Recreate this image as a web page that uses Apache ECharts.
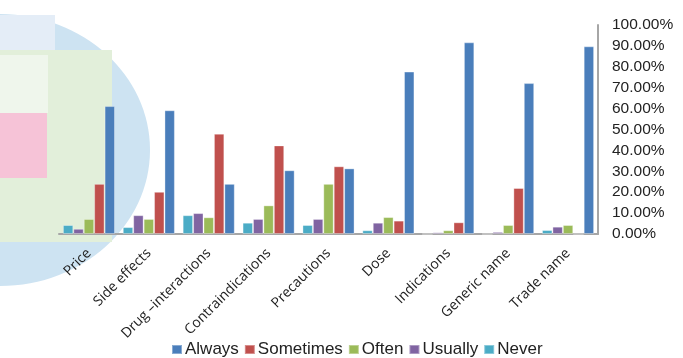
<!DOCTYPE html>
<html>
<head>
<meta charset="utf-8">
<script src="https://cdn.jsdelivr.net/npm/echarts@6/dist/echarts.min.js"></script>
<style>
  html, body { margin: 0; padding: 0; background: #fff; }
  #main { width: 683px; height: 358px; }
</style>
</head>
<body>
<div id="main"></div>
<script>
// categories and values (fraction of respondents)
var categories = ['Price', 'Side effects', 'Drug \u2013interactions', 'Contraindications',
  'Precautions', 'Dose', 'Indications', 'Generic name', 'Trade name'];
var never     = [0.043, 0.033, 0.090, 0.054, 0.043, 0.018, 0.000, 0.000, 0.019];
var usually   = [0.025, 0.090, 0.100, 0.072, 0.072, 0.054, 0.008, 0.010, 0.035];
var often     = [0.072, 0.072, 0.080, 0.137, 0.240, 0.081, 0.018, 0.043, 0.043];
var sometimes = [0.240, 0.202, 0.480, 0.424, 0.324, 0.064, 0.056, 0.220, 0.000];
var always    = [0.612, 0.592, 0.240, 0.305, 0.314, 0.777, 0.917, 0.722, 0.898];

var colors = {
  Always: '#4a7ebb', Sometimes: '#c0504d', Often: '#9bbb59',
  Usually: '#8064a2', Never: '#4bacc6'
};

function bar(name, data) {
  return {
    name: name,
    type: 'bar',
    data: data,
    barGap: '0%',
    barCategoryGap: '13%',
    itemStyle: { color: colors[name], borderColor: 'rgba(255,255,255,0.35)', borderWidth: 1 }
  };
}

var chart = echarts.init(document.getElementById('main'));

chart.setOption({
  animation: false,
  // faint pixelated blob behind the left side of the plot
  graphic: [
    { type: 'ellipse', shape: { cx: 0, cy: 150, rx: 150, ry: 136 }, style: { fill: '#cde3f2' }, z: -10 },
    { type: 'rect', shape: { x: 0, y: 15, width: 55, height: 36 }, style: { fill: '#e4edf7' }, z: -9 },
    { type: 'rect', shape: { x: 0, y: 50, width: 112, height: 192 }, style: { fill: '#e2efda' }, z: -9 },
    { type: 'rect', shape: { x: 0, y: 55, width: 48, height: 58 }, style: { fill: '#eff6ec' }, z: -8 },
    { type: 'rect', shape: { x: 0, y: 113, width: 47, height: 65 }, style: { fill: '#f6c3d7' }, z: -8 }
  ],
  grid: { left: 59, right: 85, top: 25, bottom: 124 },
  legend: {
    data: ['Always', 'Sometimes', 'Often', 'Usually', 'Never'],
    top: 336,
    left: 166,
    icon: 'rect',
    itemWidth: 10,
    itemHeight: 9,
    itemGap: 5,
    textStyle: { fontFamily: 'Liberation Sans', fontSize: 17, color: '#222', padding: [0, 0, 0, -2] }
  },
  xAxis: {
    type: 'category',
    data: categories,
    axisLine: { lineStyle: { color: '#a6a6a6', width: 2 } },
    axisTick: { show: false },
    axisLabel: {
      rotate: 45,
      interval: 0,
      margin: 17,
      fontFamily: 'Open Sans',
      fontSize: 14,
      color: '#222'
    }
  },
  yAxis: {
    type: 'value',
    position: 'right',
    min: 0,
    max: 1,
    interval: 0.1,
    splitLine: { show: false },
    axisLine: { show: true, lineStyle: { color: '#a6a6a6', width: 2 } },
    axisTick: { show: false },
    axisLabel: {
      margin: 14,
      fontFamily: 'Liberation Sans',
      fontSize: 15.5,
      color: '#222',
      formatter: function (v) { return (v * 100).toFixed(2) + '%'; }
    }
  },
  series: [
    bar('Never', never),
    bar('Usually', usually),
    bar('Often', often),
    bar('Sometimes', sometimes),
    bar('Always', always)
  ]
});
</script>
</body>
</html>
